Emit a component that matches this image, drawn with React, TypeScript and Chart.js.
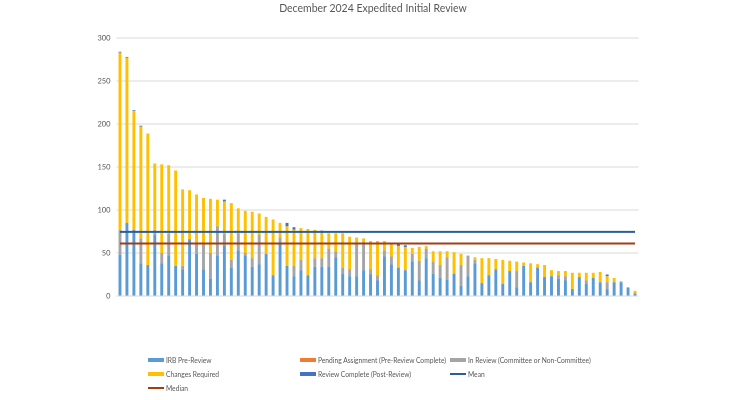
import React, { useEffect, useRef } from "react";
import { Chart, registerables } from "chart.js";

Chart.register(...registerables);

const titleText = "December 2024 Expedited Initial Review";

const irbPreReview = [
  48, 85, 77, 38, 36, 71, 38, 47, 35, 31, 66, 49, 31, 20, 47, 59, 33, 53, 47, 34,
  37, 49, 24, 61, 35, 23, 30, 24, 34, 34, 34, 45, 26, 23, 23, 30, 25, 18, 46, 37,
  33, 30, 40, 18, 44, 26, 21, 19, 26, 12, 23, 38, 15, 24, 31, 14, 29, 10, 35, 16,
  33, 22, 23, 20, 18, 8, 22, 14, 21, 16, 8, 16, 16, 10, 3,
];
const pendingAssignment = [
  0, 0, 0, 0, 0, 0, 0, 0, 0, 0, 0, 0, 0, 0, 0, 0, 0, 0, 0, 0,
  0, 0, 0, 0, 0, 0, 0, 0, 0, 0, 0, 0, 0, 0, 0, 0, 0, 0, 0, 0,
  0, 0, 0, 0, 0, 0, 0, 0, 0, 0, 0, 0, 0, 0, 0, 0, 0, 0, 0, 0,
  0, 0, 0, 0, 0, 0, 0, 0, 0, 0, 0, 0, 0, 0, 0,
];
const inReview = [
  29, 0, 0, 29, 0, 6, 12, 25, 0, 4, 0, 11, 29, 30, 34, 13, 9, 20, 3, 10,
  34, 0, 0, 7, 0, 12, 12, 0, 10, 10, 21, 7, 7, 8, 39, 33, 6, 6, 7, 9,
  0, 0, 9, 23, 11, 14, 15, 26, 0, 24, 24, 4, 0, 0, 0, 0, 0, 19, 0, 0,
  0, 0, 0, 4, 5, 0, 0, 4, 0, 0, 8, 0, 1, 0, 0,
];
const changesRequired = [
  206, 192, 138, 130, 153, 77, 103, 80, 111, 89, 57, 58, 54, 63, 31, 38, 66, 29, 49, 54,
  25, 43, 65, 17, 46, 42, 37, 54, 33, 30, 18, 21, 40, 38, 6, 4, 33, 40, 11, 15,
  25, 27, 7, 16, 3, 12, 16, 7, 25, 13, 0, 3, 29, 20, 12, 28, 12, 11, 4, 22,
  4, 14, 7, 5, 6, 19, 5, 9, 6, 12, 7, 5, 0, 0, 3,
];
const reviewComplete = [
  1, 1, 1, 1, 0, 0, 0, 0, 0, 0, 0, 0, 0, 0, 0, 2, 0, 0, 0, 0,
  0, 0, 0, 0, 4, 3, 0, 0, 0, 2, 0, 0, 0, 0, 0, 0, 0, 0, 0, 0,
  2, 2, 0, 0, 0, 0, 0, 0, 0, 0, 0, 0, 0, 0, 0, 0, 0, 0, 0, 0,
  0, 0, 0, 0, 0, 0, 0, 0, 0, 0, 2, 0, 0, 0, 0,
];
const meanValue = 74.5;
const medianValue = 61;
const yTicks = [0, 50, 100, 150, 200, 250, 300];
const categories = irbPreReview.map((_, i) => String(i + 1));

const COLORS = {
  irb: "#5B9BD5",
  pending: "#ED7D31",
  inReview: "#A5A5A5",
  changes: "#FFC000",
  complete: "#4472C4",
  mean: "#2A5E95",
  median: "#A23D12",
  text: "#595959",
  grid: "#D9D9D9",
};

const FONT = "Lato, 'Open Sans', 'DejaVu Sans', sans-serif";

type LegendItem = { label: string; color: string; kind: "box" | "line"; x: number; y: number };

const legendItems: LegendItem[] = [
  { label: "IRB Pre-Review", color: COLORS.irb, kind: "box", x: 148, y: 360 },
  { label: "Pending Assignment (Pre-Review Complete)", color: COLORS.pending, kind: "box", x: 300, y: 360 },
  { label: "In Review (Committee or Non-Committee)", color: COLORS.inReview, kind: "box", x: 450, y: 360 },
  { label: "Changes Required", color: COLORS.changes, kind: "box", x: 148, y: 374 },
  { label: "Review Complete (Post-Review)", color: COLORS.complete, kind: "box", x: 300, y: 374 },
  { label: "Mean", color: COLORS.mean, kind: "line", x: 450, y: 374 },
  { label: "Median", color: COLORS.median, kind: "line", x: 148, y: 388 },
];

export default function App() {
  const canvasRef = useRef<HTMLCanvasElement | null>(null);

  useEffect(() => {
    const canvas = canvasRef.current;
    if (!canvas) return;
    const barCommon = {
      type: "bar" as const,
      stack: "status",
      barPercentage: 0.42,
      categoryPercentage: 1,
      order: 2,
      borderWidth: 0,
    };
    const chart = new Chart(canvas, {
      type: "bar",
      data: {
        labels: categories,
        datasets: [
          { ...barCommon, label: "IRB Pre-Review", data: irbPreReview, backgroundColor: COLORS.irb },
          { ...barCommon, label: "Pending Assignment (Pre-Review Complete)", data: pendingAssignment, backgroundColor: COLORS.pending },
          { ...barCommon, label: "In Review (Committee or Non-Committee)", data: inReview, backgroundColor: COLORS.inReview },
          { ...barCommon, label: "Changes Required", data: changesRequired, backgroundColor: COLORS.changes },
          { ...barCommon, label: "Review Complete (Post-Review)", data: reviewComplete, backgroundColor: COLORS.complete },
          {
            type: "line" as const,
            label: "Mean",
            stack: "mean",
            data: categories.map(() => meanValue),
            borderColor: COLORS.mean,
            borderWidth: 2,
            pointRadius: 0,
            fill: false,
            order: 0,
          },
          {
            type: "line" as const,
            label: "Median",
            stack: "median",
            data: categories.map(() => medianValue),
            borderColor: COLORS.median,
            borderWidth: 2,
            pointRadius: 0,
            fill: false,
            order: 0,
          },
        ] as any,
      },
      options: {
        responsive: false,
        animation: false,
        devicePixelRatio: 2,
        layout: { padding: { left: 0, right: 111.5, top: 38, bottom: 104 } },
        plugins: {
          legend: { display: false },
          title: { display: false },
          tooltip: { enabled: false },
        },
        scales: {
          x: {
            display: false,
            stacked: true,
            offset: true,
          },
          y: {
            stacked: true,
            min: 0,
            max: 300,
            afterFit: (s: any) => {
              s.width = 116.5;
            },
            afterBuildTicks: (s: any) => {
              s.ticks = yTicks.map((v) => ({ value: v }));
            },
            border: { display: false },
            grid: { color: COLORS.grid, lineWidth: 1, drawTicks: false },
            ticks: {
              color: COLORS.text,
              padding: 6,
              font: { family: FONT, size: 7.5 },
            },
          },
        },
      },
    });
    return () => chart.destroy();
  }, []);

  return (
    <div style={{ position: "fixed", left: 0, top: 0, width: 750, height: 400, background: "#fff", fontFamily: FONT }}>
      <canvas ref={canvasRef} width={750} height={400} style={{ position: "absolute", left: 0, top: 0, width: 750, height: 400 }} />
      <div
        style={{
          position: "absolute",
          left: 0,
          width: 746,
          top: 0,
          textAlign: "center",
          fontSize: 10.5,
          lineHeight: "16px",
          color: COLORS.text,
        }}
      >
        {titleText}
      </div>
      {legendItems.map((it) => (
        <div
          key={it.label}
          style={{
            position: "absolute",
            left: it.x,
            top: it.y - 6,
            height: 12,
            display: "flex",
            alignItems: "center",
            fontSize: 6.7,
            color: COLORS.text,
            whiteSpace: "nowrap",
          }}
        >
          <span
            style={{
              display: "inline-block",
              width: 16,
              height: it.kind === "box" ? 4 : 2,
              background: it.color,
              marginRight: 2,
            }}
          />
          <span>{it.label}</span>
        </div>
      ))}
    </div>
  );
}
